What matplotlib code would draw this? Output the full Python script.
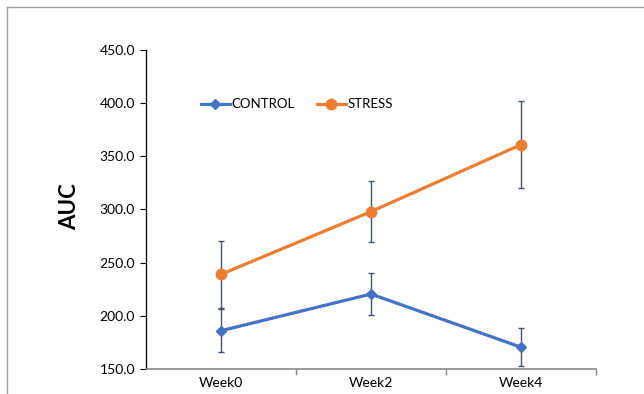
import matplotlib.pyplot as plt
from matplotlib.lines import Line2D

plt.rcParams['font.family'] = ['Lato', 'DejaVu Sans']

weeks = ["Week0", "Week2", "Week4"]
control = [186.0, 220.5, 170.5]
control_err = [20.0, 19.5, 18.0]
stress = [239.0, 298.0, 361.0]
stress_err = [31.5, 28.5, 41.0]
yticks = [150.0, 200.0, 250.0, 300.0, 350.0, 400.0, 450.0]

blue = '#4472C4'
orange = '#ED7D31'
err_col = '#44546A'

fig = plt.figure(figsize=(6.44, 3.94), dpi=100)
ax = fig.add_axes([146 / 644, 25 / 394, 450 / 644, 319 / 394])

x = list(range(len(weeks)))

# error bars sit underneath the series lines
ax.errorbar(x, control, yerr=control_err, fmt='none', ecolor=err_col,
            elinewidth=1, capsize=2.5, capthick=1, zorder=2)
ax.errorbar(x, stress, yerr=stress_err, fmt='none', ecolor=err_col,
            elinewidth=1, capsize=2.5, capthick=1, zorder=2)

ax.plot(x, control, color=blue, lw=2.3, marker='D', ms=5,
        label='CONTROL', zorder=3)
ax.plot(x, stress, color=orange, lw=2.3, marker='o', ms=7.5,
        label='STRESS', zorder=4)

ax.set_xlim(-0.5, 2.5)
ax.set_ylim(150, 450)
ax.set_yticks(yticks)
ax.set_yticklabels([f"{v:.1f}" for v in yticks], fontsize=10)
ax.set_xticks(x)
ax.set_xticklabels(weeks, fontsize=10)
ax.tick_params(axis='x', which='major', length=0, pad=6)
ax.set_xticks([0.5, 1.5, 2.5], minor=True)
ax.tick_params(axis='x', which='minor', length=4, color='#888888', width=1)
ax.tick_params(axis='y', length=4, width=0.8, color='black', pad=4)

for side in ('top', 'right'):
    ax.spines[side].set_visible(False)
ax.spines['left'].set_color('black')
ax.spines['left'].set_linewidth(0.9)
ax.spines['bottom'].set_color('#888888')
ax.spines['bottom'].set_linewidth(1.2)

fig.text(70 / 644, 1 - 207 / 394, 'AUC', rotation=90, fontsize=16,
         fontweight='bold', ha='center', va='center')

ax.legend(loc='upper left', bbox_to_anchor=(0.11, 0.865), ncol=2,
          frameon=False, fontsize=9.5, handlelength=2.2, handletextpad=0.1,
          columnspacing=1.7, borderaxespad=0)

# thin frame around the chart area
fig.add_artist(Line2D([6.5 / 644, 1.0], [1 - 7 / 394, 1 - 7 / 394],
                      color='#a0a0a0', lw=1))
fig.add_artist(Line2D([6.5 / 644, 6.5 / 644], [0, 1 - 7 / 394],
                      color='#a0a0a0', lw=1))

fig.savefig('out.png', dpi=100)
